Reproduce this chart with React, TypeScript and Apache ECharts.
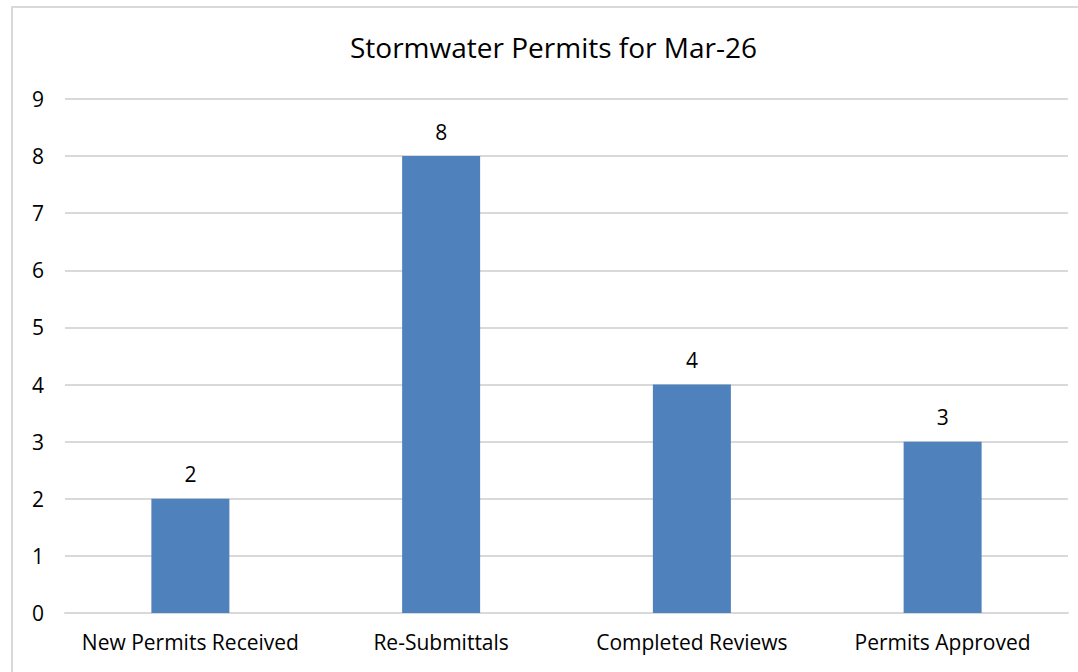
import React, { useEffect, useRef } from "react";
import * as echarts from "echarts";

const categories = ["New Permits Received", "Re-Submittals", "Completed Reviews", "Permits Approved"];
const values = [2, 8, 4, 3];
const titleText = "Stormwater Permits for Mar-26";
const FONT = "'Open Sans', 'Noto Sans', sans-serif";

export default function App() {
  const ref = useRef<HTMLDivElement>(null);
  useEffect(() => {
    const chart = echarts.init(ref.current!, null, { renderer: "svg" });
    chart.setOption({
      animation: false,
      backgroundColor: "#ffffff",
      title: {
        text: titleText,
        left: 345,
        top: 28,
        textStyle: { fontFamily: FONT, fontSize: 28, fontWeight: "normal", color: "#000000" },
      },
      graphic: [
        {
          type: "rect",
          shape: { x: 12, y: 7, width: 1080, height: 700 },
          style: { fill: "none", stroke: "#d9d9d9", lineWidth: 2 },
          silent: true,
        },
      ],
      grid: { left: 65, right: 10, top: 99, bottom: 59 },
      xAxis: {
        type: "category",
        data: categories,
        axisLine: { show: true, lineStyle: { color: "#d9d9d9", width: 2 } },
        axisTick: { show: false },
        axisLabel: { interval: 0, fontFamily: FONT, fontSize: 21, color: "#000000", margin: 18 },
      },
      yAxis: {
        type: "value",
        min: 0,
        max: 9,
        interval: 1,
        axisLine: { show: false },
        axisTick: { show: false },
        splitLine: { lineStyle: { color: "#d9d9d9", width: 2 } },
        axisLabel: { fontFamily: FONT, fontSize: 21, color: "#000000", margin: 21 },
      },
      series: [
        {
          type: "bar",
          data: values,
          barWidth: 78,
          itemStyle: { color: "#4f81bd" },
          label: {
            show: true,
            position: "top",
            distance: 14,
            fontFamily: FONT,
            fontSize: 21,
            color: "#000000",
          },
        },
      ],
    });
    return () => chart.dispose();
  }, []);
  return <div ref={ref} style={{ position: "fixed", left: 0, top: 0, width: 1078, height: 672 }} />;
}
